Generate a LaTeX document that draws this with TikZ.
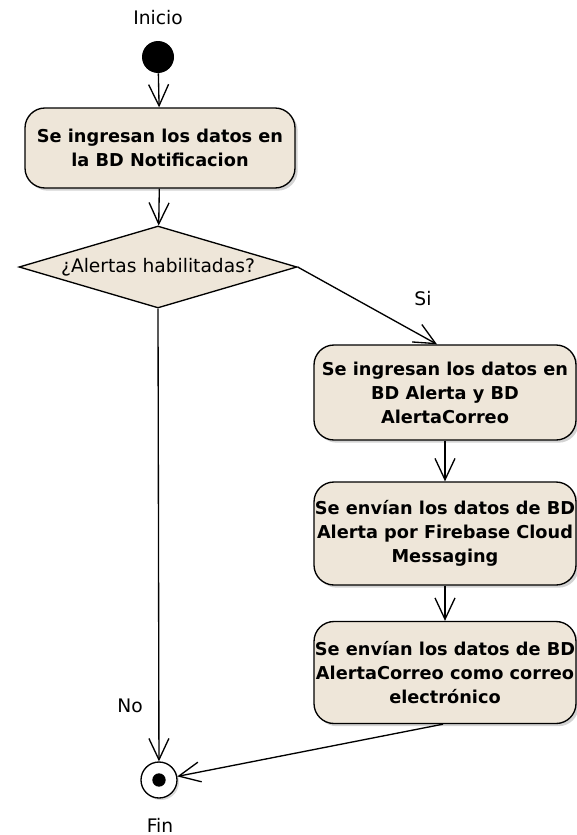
\documentclass[tikz,border=0pt]{standalone}
\usepackage{fontspec}
\setmainfont{DejaVu Sans}
\usetikzlibrary{arrows.meta,shapes.geometric,shadows}
\definecolor{actfill}{RGB}{238,230,217}
\tikzset{
  act/.style={draw, line width=1pt, rounded corners=15pt, fill=actfill,
    align=center, inner sep=0.5pt, font=\bfseries\fontsize{13.3}{18}\selectfont,
    drop shadow={shadow xshift=2pt, shadow yshift=-2pt, opacity=0.35}},
  flow/.style={line width=1pt, -{Straight Barb[length=16pt,width=15pt,line width=1pt]}},
  lbl/.style={font=\fontsize{14}{16}\selectfont},
}
\begin{document}
\begin{tikzpicture}[x=0.75pt,y=-0.75pt]
    \useasboundingbox (0,0) rectangle (577,835);
    % 開始と終了
    \node[lbl] (inicio) at (158,18) {Inicio};
    \node[circle, fill=black, minimum size=24pt, inner sep=0pt] (S) at (158,57) {};
    \node[circle, draw, line width=1pt, fill=white, minimum size=27pt, inner sep=0pt,
      drop shadow={shadow xshift=1.5pt, shadow yshift=-1.5pt, opacity=0.3}] (F) at (159,780) {};
    \fill (F.center) circle (5pt);
    \node[lbl] (fin) at (160,825) {Fin};
    % アクション
    \node[act, minimum width=202.5pt, minimum height=60pt] (N) at (160,148)
      {Se ingresan los datos en\\la BD Notificacion};
    \node[diamond, draw, line width=1pt, fill=actfill, aspect=3.4, inner sep=0pt,
      minimum width=208.5pt, minimum height=61.5pt, lbl] (D) at (158,267)
      {¿Alertas habilitadas?};
    \node[act, minimum width=196.5pt, minimum height=71.25pt] (A1) at (445,392.5)
      {Se ingresan los datos en\\BD Alerta y BD\\AlertaCorreo};
    \node[act, minimum width=196.5pt, minimum height=77.25pt] (A2) at (445,533.5)
      {Se envían los datos de BD\\Alerta por Firebase Cloud\\Messaging};
    \node[act, minimum width=196.5pt, minimum height=76.5pt] (A3) at (445,672.5)
      {Se envían los datos de BD\\AlertaCorreo como correo\\electrónico};
    % 遷移
    \draw[flow] (S) -- (N);
    \draw[flow] (N) -- (D);
    \draw[flow] (D.east) -- ([xshift=-6pt]A1.north);
    \node[lbl] (si) at (423,299) {Si};
    \draw[flow] (A1) -- (A2);
    \draw[flow] (A2) -- (A3);
    \draw[flow] (D.south) -- (F);
    \node[lbl] (no) at (130,706) {No};
    \draw[flow] ([xshift=-1.5pt]A3.south) -- (F);
\end{tikzpicture}
\end{document}
